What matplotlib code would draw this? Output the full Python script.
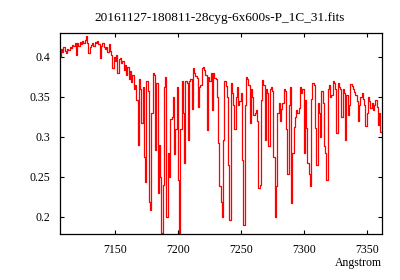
import numpy as np
import matplotlib
matplotlib.use("Agg")
import matplotlib.pyplot as plt

# Spectrum (1 Angstrom sampling)
str_title = "20161127-180811-28cyg-6x600s-P_1C_31.fits"
str_x_label = "Angstrom"
wave_start = 7106.0
wave_step = 1.0
flux = [
    0.400, 0.410, 0.406, 0.412,
    0.408, 0.405, 0.410, 0.409, 0.413, 0.411, 0.415, 0.414, 0.417, 0.403,  # 7110
    0.418, 0.414, 0.419, 0.416, 0.420, 0.417, 0.421, 0.426, 0.418, 0.405,  # 7120
    0.412, 0.415, 0.417, 0.414, 0.419, 0.418, 0.420, 0.416, 0.399, 0.414,  # 7130
    0.417, 0.413, 0.410, 0.412, 0.406, 0.416, 0.408, 0.403, 0.386, 0.400,  # 7140
    0.395, 0.403, 0.380, 0.398, 0.399, 0.392, 0.395, 0.384, 0.390, 0.377,  # 7150
    0.388, 0.372, 0.382, 0.369, 0.378, 0.360, 0.365, 0.346, 0.290, 0.372,  # 7160
    0.360, 0.318, 0.362, 0.275, 0.244, 0.370, 0.358, 0.219, 0.209, 0.330,  # 7170
    0.380, 0.378, 0.284, 0.368, 0.230, 0.290, 0.250, 0.180, 0.240, 0.363,  # 7180
    0.375, 0.200, 0.280, 0.250, 0.323, 0.325, 0.350, 0.278, 0.310, 0.363,  # 7190
    0.246, 0.179, 0.310, 0.370, 0.330, 0.267, 0.370, 0.368, 0.296, 0.370,  # 7200
    0.372, 0.335, 0.386, 0.380, 0.376, 0.374, 0.338, 0.362, 0.365, 0.386,  # 7210
    0.388, 0.384, 0.378, 0.309, 0.375, 0.370, 0.380, 0.334, 0.380, 0.374,  # 7220
    0.372, 0.350, 0.292, 0.238, 0.219, 0.200, 0.296, 0.370, 0.364, 0.350,  # 7230
    0.265, 0.196, 0.367, 0.355, 0.340, 0.310, 0.350, 0.363, 0.340, 0.345,  # 7240
    0.355, 0.271, 0.190, 0.340, 0.375, 0.372, 0.365, 0.317, 0.360, 0.350,  # 7250
    0.328, 0.330, 0.334, 0.320, 0.236, 0.240, 0.346, 0.371, 0.365, 0.296,  # 7260
    0.360, 0.355, 0.288, 0.360, 0.362, 0.358, 0.275, 0.200, 0.238, 0.330,  # 7270
    0.342, 0.320, 0.335, 0.342, 0.360, 0.358, 0.310, 0.254, 0.340, 0.363,  # 7280
    0.217, 0.280, 0.313, 0.325, 0.334, 0.330, 0.336, 0.363, 0.355, 0.360,  # 7290
    0.280, 0.346, 0.311, 0.267, 0.253, 0.238, 0.348, 0.367, 0.365, 0.311,  # 7300
    0.265, 0.342, 0.330, 0.300, 0.357, 0.342, 0.288, 0.280, 0.246, 0.360,  # 7310
    0.365, 0.350, 0.352, 0.370, 0.367, 0.360, 0.305, 0.367, 0.362, 0.360,  # 7320
    0.325, 0.360, 0.355, 0.296, 0.352, 0.328, 0.340, 0.366, 0.364, 0.360,  # 7330
    0.356, 0.352, 0.345, 0.320, 0.340, 0.350, 0.355, 0.347, 0.340, 0.314,  # 7340
    0.330, 0.350, 0.345, 0.336, 0.342, 0.334, 0.340, 0.346, 0.338, 0.315,  # 7350
    0.330, 0.306,                                                          # 7360
]
x_ticks = [7150, 7200, 7250, 7300, 7350]
y_ticks = [0.2, 0.25, 0.3, 0.35, 0.4]
y_tick_labels = ["0.2", "0.25", "0.3", "0.35", "0.4"]

wave = wave_start + wave_step * np.arange(len(flux))

plt.rcParams["font.family"] = ["Liberation Serif", "DejaVu Serif"]

fig = plt.figure(figsize=(4.0, 2.8), dpi=100)
ax = fig.add_axes([0.149, 0.164, 0.805, 0.717])
ax.plot(wave, flux, color="#ff0000", linewidth=0.9, drawstyle="steps-mid")

ax.set_xlim(7105.6, 7361.4)
ax.set_ylim(0.1785, 0.4295)
ax.set_xticks(x_ticks)
ax.set_xticklabels([str(t) for t in x_ticks])
ax.set_yticks(y_ticks)
ax.set_yticklabels(y_tick_labels)
ax.tick_params(direction="in", length=3, width=0.8, top=True, right=True,
               labelsize=8.5, pad=7)
for sp in ax.spines.values():
    sp.set_linewidth(0.9)

fig.text(0.55, 1 - 18.0 / 280, str_title, ha="center", va="center", fontsize=9.5)
fig.text(381.7 / 400, 1 - 263.0 / 280, str_x_label, ha="right", va="center",
         fontsize=8.5)

fig.savefig("out.png", dpi=100)
plt.close(fig)
